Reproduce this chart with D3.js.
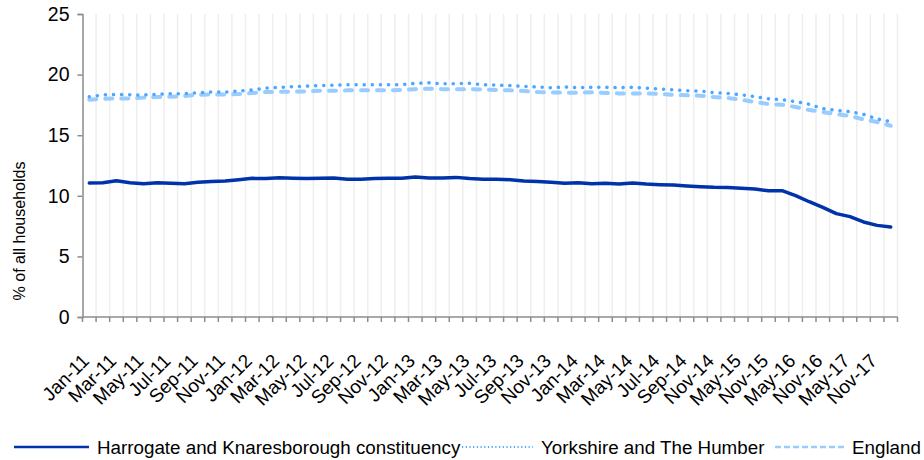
<!DOCTYPE html>
<meta charset="utf-8">
<style>
    body { margin: 0; background: #fff; }
    svg text { font-family: "Liberation Sans", Arial, sans-serif; fill: #000; }
</style>
<svg width="924" height="460"></svg>
<script src="https://cdn.jsdelivr.net/npm/d3@7"></script>
<script>
// monthly to Nov-14, then quarterly
var categories = ["Jan-11","Feb-11","Mar-11","Apr-11","May-11","Jun-11","Jul-11","Aug-11","Sep-11","Oct-11","Nov-11","Dec-11",
    "Jan-12","Feb-12","Mar-12","Apr-12","May-12","Jun-12","Jul-12","Aug-12","Sep-12","Oct-12","Nov-12","Dec-12",
    "Jan-13","Feb-13","Mar-13","Apr-13","May-13","Jun-13","Jul-13","Aug-13","Sep-13","Oct-13","Nov-13","Dec-13",
    "Jan-14","Feb-14","Mar-14","Apr-14","May-14","Jun-14","Jul-14","Aug-14","Sep-14","Oct-14","Nov-14",
    "Feb-15","May-15","Aug-15","Nov-15","Feb-16","May-16","Aug-16","Nov-16","Feb-17","May-17","Aug-17","Nov-17","Feb-18"];

var harrogate = [11.06, 11.08, 11.25, 11.08, 11.0, 11.08, 11.03, 11.0, 11.11, 11.17, 11.22, 11.33, 11.44, 11.42, 11.48,
    11.44, 11.42, 11.44, 11.47, 11.36, 11.36, 11.42, 11.44, 11.44, 11.55, 11.47, 11.47, 11.52, 11.42, 11.36,
    11.36, 11.33, 11.22, 11.17, 11.11, 11.03, 11.08, 11.0, 11.03, 10.97, 11.05, 10.97, 10.92, 10.89, 10.81,
    10.75, 10.70, 10.68, 10.62, 10.56, 10.42, 10.42, 10.01, 9.51, 9.05, 8.53, 8.28, 7.84, 7.56, 7.43];

var yorkshire = [18.18, 18.32, 18.36, 18.33, 18.32, 18.37, 18.43, 18.43, 18.51, 18.56, 18.56, 18.65, 18.73, 18.89, 18.95,
    19.0, 19.05, 19.09, 19.13, 19.17, 19.15, 19.17, 19.17, 19.17, 19.28, 19.32, 19.24, 19.25, 19.28, 19.16,
    19.13, 19.09, 19.03, 18.98, 18.92, 18.98, 18.92, 18.95, 18.95, 18.92, 18.95, 18.89, 18.81, 18.75, 18.67,
    18.65, 18.51, 18.45, 18.34, 18.18, 18.01, 17.93, 17.77, 17.55, 17.19, 17.05, 16.94, 16.72, 16.34, 16.12];

var england = [17.93, 18.01, 18.04, 18.03, 18.10, 18.15, 18.18, 18.23, 18.34, 18.37, 18.36, 18.40, 18.48, 18.56, 18.59,
    18.59, 18.62, 18.67, 18.67, 18.70, 18.70, 18.70, 18.71, 18.73, 18.80, 18.84, 18.80, 18.79, 18.80, 18.76,
    18.73, 18.70, 18.65, 18.56, 18.52, 18.51, 18.51, 18.54, 18.48, 18.45, 18.45, 18.44, 18.40, 18.34, 18.29,
    18.26, 18.15, 18.07, 17.93, 17.74, 17.57, 17.52, 17.33, 17.08, 16.91, 16.75, 16.58, 16.31, 16.09, 15.78];

var yTicks = [0, 5, 10, 15, 20, 25];

var seriesNames = ["Harrogate and Knaresborough constituency", "Yorkshire and The Humber", "England"];

var svg = d3.select("svg"),
    margin = {top: 14, right: 26.5, bottom: 143, left: 82.5},
    width = +svg.attr("width"),
    height = +svg.attr("height");

var x = d3.scaleBand()
    .domain(categories)
    .range([margin.left, width - margin.right])
    .paddingInner(0)
    .paddingOuter(0);

var y = d3.scaleLinear()
    .domain([0, 25])
    .range([height - margin.bottom, margin.top]);

var axisColor = "#8c8c8c";

// vertical gridlines on the category boundaries
var bounds = categories.map(function(c) { return x(c); }).concat([x.range()[1]]);
svg.append("g")
    .selectAll("line")
    .data(bounds.slice(1))
    .enter().append("line")
    .attr("x1", function(d) { return d; })
    .attr("x2", function(d) { return d; })
    .attr("y1", y(25))
    .attr("y2", y(0))
    .attr("stroke", "#eeeeee")
    .attr("stroke-width", 1.5);

// x axis with ticks between categories
svg.append("line")
    .attr("x1", x.range()[0]).attr("x2", x.range()[1])
    .attr("y1", y(0)).attr("y2", y(0))
    .attr("stroke", axisColor).attr("stroke-width", 1.5);
svg.append("g")
    .selectAll("line")
    .data(bounds)
    .enter().append("line")
    .attr("x1", function(d) { return d; })
    .attr("x2", function(d) { return d; })
    .attr("y1", y(0))
    .attr("y2", y(0) + 5)
    .attr("stroke", axisColor)
    .attr("stroke-width", 1.5);

svg.append("g")
    .selectAll("text")
    .data(categories.filter(function(d, i) { return i % 2 === 0; }))
    .enter().append("text")
    .attr("transform", function(d) {
        return "translate(" + (x(d) + x.bandwidth() / 2 + 1) + "," + (y(0) + 45) + ") rotate(-45)";
    })
    .style("text-anchor", "end")
    .style("font-size", "19px")
    .text(function(d) { return d; });

// y axis
var yAxis = svg.append("g")
    .attr("transform", "translate(" + margin.left + ",0)")
    .call(d3.axisLeft(y).tickValues(yTicks).tickSize(5).tickPadding(8));
yAxis.select(".domain").attr("stroke", axisColor).attr("stroke-width", 1.5);
yAxis.selectAll(".tick line").attr("stroke", axisColor).attr("stroke-width", 1.5);
yAxis.selectAll(".tick text")
    .attr("font-family", null)
    .style("font-size", "19.5px")
    .attr("fill", "#000");

svg.append("text")
    .attr("transform", "translate(25,231) rotate(-90)")
    .style("text-anchor", "middle")
    .style("font-size", "16px")
    .text("% of all households");

// lines
var styles = [
    {color: "#0033aa", width: 3.5, dash: null, cap: "round"},
    {color: "#4da6ff", width: 3.5, dash: "0.1,8", cap: "round"},
    {color: "#99ccff", width: 4, dash: "7,9", cap: "round"}
];
var allSeries = [harrogate, yorkshire, england];

var line = d3.line()
    .x(function(d, i) { return x(categories[i]) + x.bandwidth() / 2; })
    .y(function(d) { return y(d); });

[2, 1, 0].forEach(function(k) {
    svg.append("path")
        .datum(allSeries[k])
        .attr("fill", "none")
        .attr("stroke", styles[k].color)
        .attr("stroke-width", styles[k].width)
        .attr("stroke-dasharray", styles[k].dash)
        .attr("stroke-linecap", styles[k].cap)
        .attr("stroke-linejoin", "round")
        .attr("d", line);
});

// legend
var legend = [
    {x1: 14, x2: 89, tx: 97, dash: null, w: 2.5, cap: "butt"},
    {x1: 462, x2: 533, tx: 541, dash: "1.2,2.5", w: 2, cap: "butt"},
    {x1: 775, x2: 844, tx: 852, dash: "6,3", w: 2.5, cap: "butt"}
];
var legY = 447;
legend.forEach(function(l, i) {
    svg.append("line")
        .attr("x1", l.x1).attr("x2", l.x2)
        .attr("y1", legY).attr("y2", legY)
        .attr("stroke", styles[i].color)
        .attr("stroke-width", l.w)
        .attr("stroke-dasharray", l.dash)
        .attr("stroke-linecap", l.cap);
    svg.append("text")
        .attr("x", l.tx)
        .attr("y", legY)
        .attr("dy", "0.35em")
        .style("font-size", "18.8px")
        .text(seriesNames[i]);
});
</script>
